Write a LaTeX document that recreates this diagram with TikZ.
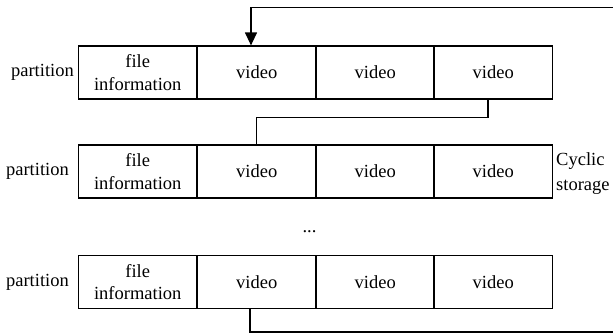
\documentclass[tikz,border=0pt]{standalone}
\usepackage{fontspec}
\setmainfont{Liberation Serif}
\usetikzlibrary{arrows.meta}
\begin{document}
\begin{tikzpicture}[x=1pt,y=-1pt,
  cell/.style={draw, line width=1.2pt, minimum width=118.5pt, minimum height=53pt, inner sep=0pt, align=center, font=\fontsize{18.5}{22.5}\selectfont},
  lbl/.style={inner sep=0pt, font=\fontsize{18.5}{22}\selectfont},
  conn/.style={line width=1.2pt}]
\useasboundingbox (0,0) rectangle (613,333);
\foreach \r/\y in {1/72.5, 2/171.5, 3/282.25}{
  \node[cell] (r\r c1) at (137.75,\y) {file\\information};
  \node[cell] (r\r c2) at (256.75,\y) {video};
  \node[cell] (r\r c3) at (375.25,\y) {video};
  \node[cell] (r\r c4) at (493.25,\y) {video};
}
\node[lbl, anchor=east] (p1) at (74,72.5) {partition};
\node[lbl, anchor=east] (p2) at (69,171.5) {partition};
\node[lbl, anchor=east] (p3) at (69,282.25) {partition};
\node[lbl, anchor=west, align=left, font=\fontsize{18.5}{25}\selectfont] (cs) at (556,173.5) {Cyclic\\storage};
\node[lbl] (dots) at (309.5,232) {...};
\coordinate (tr) at (613,7.5);
\coordinate (br) at (613,332);
\draw[conn, -{Triangle[length=13pt,width=12pt]}] (tr) -| ([xshift=-5.75pt]r1c2.north);
\draw[conn] ([xshift=-5.25pt]r1c4.south) -- ++(0,18) -| (r2c2.north);
\draw[conn] ([xshift=-6.75pt]r3c2.south) |- (br);
\end{tikzpicture}
\end{document}
